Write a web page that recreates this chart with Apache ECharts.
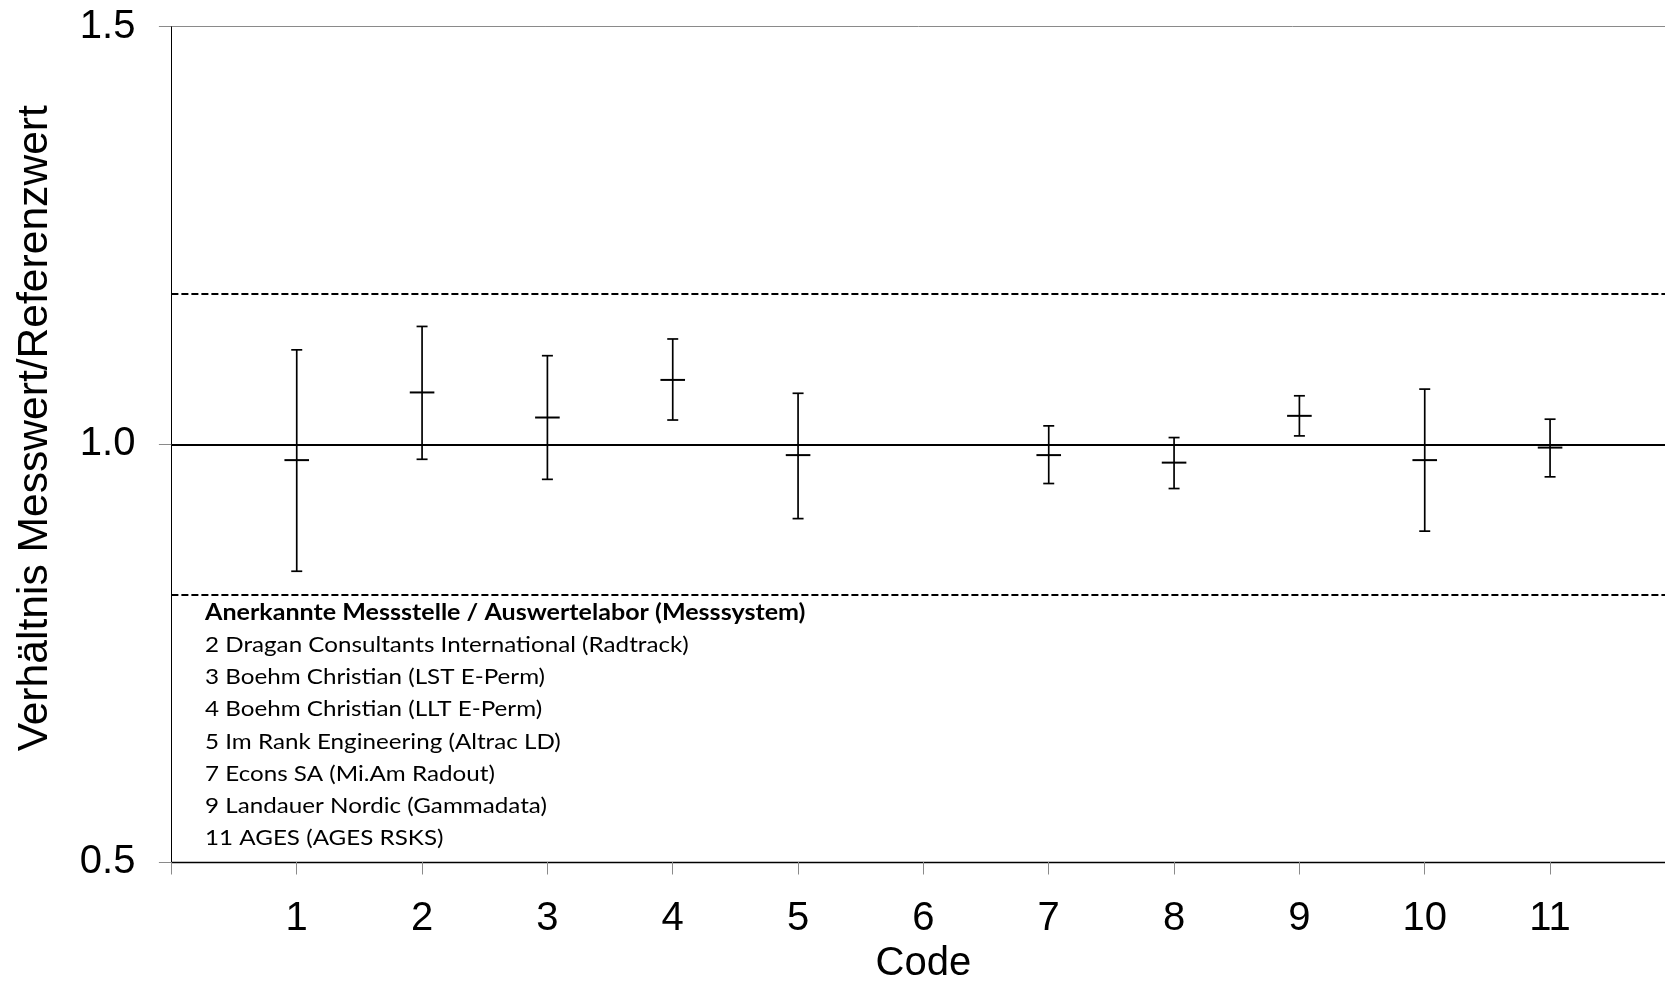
<!DOCTYPE html>
<html>
<head>
<meta charset="utf-8">
<script src="https://cdn.jsdelivr.net/npm/echarts@6/dist/echarts.min.js"></script>
<style>
html,body{margin:0;padding:0;background:#fff;}
#chart{width:1665px;height:982px;}
</style>
</head>
<body>
<div id="chart"></div>
<script>
// ---- data ----
const codes = [1, 2, 3, 4, 5, 7, 8, 9, 10, 11];
const ratio = [0.981, 1.062, 1.032, 1.077, 0.987, 0.987, 0.978, 1.034, 0.981, 0.996];
const lower = [0.848, 0.982, 0.958, 1.029, 0.911, 0.953, 0.947, 1.010, 0.896, 0.961];
const upper = [1.113, 1.141, 1.106, 1.126, 1.061, 1.022, 1.008, 1.058, 1.066, 1.030];
const xTickLabels = ['1', '2', '3', '4', '5', '6', '7', '8', '9', '10', '11'];
const referenceValue = 1.0;
const limitLower = 0.82;
const limitUpper = 1.18;
const legendTitle = 'Anerkannte Messstelle / Auswertelabor (Messsystem)';
const legendLines = [
  '2 Dragan Consultants International (Radtrack)',
  '3 Boehm Christian (LST E-Perm)',
  '4 Boehm Christian (LLT E-Perm)',
  '5 Im Rank Engineering (Altrac LD)',
  '7 Econs SA (Mi.Am Radout)',
  '9 Landauer Nordic (Gammadata)',
  '11 AGES (AGES RSKS)'
];

const seriesData = codes.map((c, i) => [c, ratio[i], lower[i], upper[i]]);

const chart = echarts.init(document.getElementById('chart'), null, {renderer: 'canvas'});
const AX = 'Liberation Sans, Arial, sans-serif';
const LH = 32.1;

function renderErrorBar(params, api) {
  const x = api.value(0);
  const pc = api.coord([x, api.value(1)]);
  const plo = api.coord([x, api.value(2)]);
  const phi = api.coord([x, api.value(3)]);
  const cap = 5.5, dash = 12.3;
  const st = {stroke: '#000', lineWidth: 1.7};
  return {
    type: 'group',
    children: [
      {type: 'line', shape: {x1: phi[0], y1: phi[1], x2: plo[0], y2: plo[1]}, style: st},
      {type: 'line', shape: {x1: phi[0] - cap, y1: phi[1], x2: phi[0] + cap, y2: phi[1]}, style: st},
      {type: 'line', shape: {x1: plo[0] - cap, y1: plo[1], x2: plo[0] + cap, y2: plo[1]}, style: st},
      {type: 'line', shape: {x1: pc[0] - dash, y1: pc[1], x2: pc[0] + dash, y2: pc[1]}, style: {stroke: '#000', lineWidth: 2}}
    ]
  };
}

chart.setOption({
  animation: false,
  backgroundColor: '#fff',
  grid: {left: 171.4, top: 26.5, width: 1504, height: 835.5, containLabel: false, outerBoundsMode: 'none'},
  xAxis: {
    type: 'value', min: 0, max: 12, interval: 1,
    name: 'Code', nameLocation: 'middle', nameGap: 82,
    nameTextStyle: {fontFamily: AX, fontSize: 40, color: '#000'},
    axisLine: {show: true, onZero: false, lineStyle: {color: '#000', width: 1.4}},
    axisTick: {show: true, length: 12.5, lineStyle: {color: '#8a8a8a', width: 1}},
    axisLabel: {
      fontFamily: AX, fontSize: 40, color: '#000', margin: 37,
      formatter: v => (v >= 1 && v <= xTickLabels.length) ? xTickLabels[v - 1] : ''
    },
    splitLine: {show: false}
  },
  yAxis: {
    type: 'value', min: 0.5, max: 1.5, interval: 0.5,
    name: 'Verhältnis Messwert/Referenzwert', nameLocation: 'middle', nameGap: 115,
    nameRotate: 90,
    nameTextStyle: {fontFamily: AX, fontSize: 42.6, color: '#000', padding: [0, 0, 0, 32]},
    axisLine: {show: true, lineStyle: {color: '#000', width: 1}},
    axisTick: {show: true, length: 12.5, lineStyle: {color: '#8a8a8a', width: 1}},
    axisLabel: {fontFamily: AX, fontSize: 40, color: '#000', margin: 36, formatter: v => v.toFixed(1)},
    splitLine: {show: true, lineStyle: {color: '#8a8a8a', width: 1}}
  },
  series: [
    {
      type: 'line', data: [], silent: true,
      markLine: {
        silent: true, symbol: 'none', label: {show: false},
        data: [
          {yAxis: referenceValue, lineStyle: {color: '#000', width: 2.2, type: 'solid'}},
          {yAxis: limitUpper, lineStyle: {color: '#000', width: 2.2, type: [7, 3]}},
          {yAxis: limitLower, lineStyle: {color: '#000', width: 2.2, type: [7, 3]}}
        ]
      }
    },
    {
      type: 'custom', renderItem: renderErrorBar, data: seriesData,
      encode: {x: 0, y: [1, 2, 3]}, z: 5
    }
  ],
  graphic: [
    {
      type: 'text', x: 205, y: 597, scaleX: 1.14, z: 10,
      style: {
        text: legendTitle, fontFamily: 'Lato, sans-serif', fontSize: 22, fontWeight: 'bold',
        lineHeight: LH, fill: '#000'
      }
    },
    {
      type: 'text', x: 205, y: 597 + LH, scaleX: 1.1, z: 10,
      style: {
        text: legendLines.join('\n'), fontFamily: 'Lato, sans-serif', fontSize: 22,
        lineHeight: LH, fill: '#000'
      }
    }
  ]
});
</script>
</body>
</html>
